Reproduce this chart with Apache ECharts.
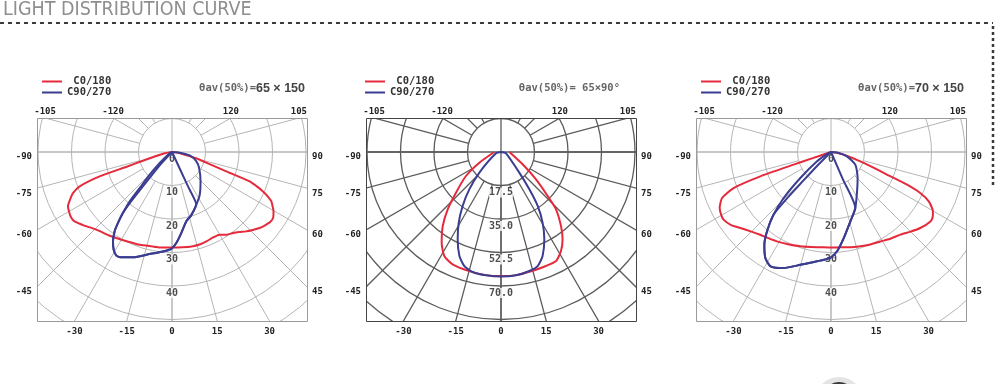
<!DOCTYPE html>
<html lang="en">
<head>
<meta charset="UTF-8">
<title>Light distribution curve</title>
<script src="https://cdn.jsdelivr.net/npm/echarts@6/dist/echarts.min.js"></script>
<style>
  body { margin: 0; background: #fff; }
  #wrap { position: relative; width: 1000px; height: 384px; overflow: hidden; }
  .grid { position: absolute; top: 118px; width: 270px; height: 203px; }
  #main { position: absolute; left: 0; top: 0; width: 1000px; height: 384px; }
</style>
</head>
<body>
<div id="wrap">
  <div class="grid" id="g0" style="left:37px"></div>
  <div class="grid" id="g1" style="left:366px"></div>
  <div class="grid" id="g2" style="left:696px"></div>
  <div id="main"></div>
</div>
<script>
// ---- data: [angle (deg, 0 = straight down, + = right), intensity] ----
const p1Red = [[-90,0],[-80,2.5],[-75,6],[-73,10],[-72,14],[-71.4,22.8],[-69.6,29.4],[-67.5,32],[-65.6,33.2],[-62.5,35],[-60,35.5],[-57,35.9],[-54.5,35.7],[-50,34.2],[-46,32.8],[-42.4,32],[-37,31.2],[-33,30.6],[-26,29.8],[-19,29.3],[-12,28.8],[-7,28.7],[0,28.5],[6,28.6],[12.6,28.8],[17,28.8],[21,28.6],[26,28.3],[30,28.5],[33.5,29.6],[37,30.3],[40,31.2],[43,32.4],[46,33.5],[49,34.6],[52,35.4],[54.5,36],[57,36],[59.7,35.1],[61.5,34.2],[63.6,33.1],[65.3,31.3],[66.6,29.6],[68,27.2],[69.3,24.8],[70.4,17.2],[72,12],[74.5,8.6],[78,4],[85,1.5],[90,0]];
const p1BlueA = [[25,0],[25,6],[25,12],[24.8,17.3],[17,19.7],[11.7,21.1],[6.6,24.3],[2.7,27.2],[-0.4,28.9],[-5.2,29.8],[-12.4,31.2],[-20.3,33.5],[-25.7,34.9],[-28.2,35.1],[-30.8,34],[-33.4,32],[-35.9,29.2],[-37.3,26.6],[-38.8,23.4],[-40.6,19.4],[-41.9,14.4],[-44.6,9.5],[-48.3,4.9],[-60,1],[-60,0]];
const p1BlueB = [[-43,0],[-43,5],[-41,10],[-40,15],[-39.5,20],[-38.8,23.4],[-37.3,26.6],[-35.9,29.2],[-33.4,32],[-30.8,34],[-28.2,35.1],[-25.7,34.9],[-20.3,33.5],[-12.4,31.2],[-5.2,29.8],[-0.4,28.9],[2.7,27.2],[6.6,24.3],[11.7,21.1],[17,19.7],[24.8,17.3],[33,15.2],[44.3,12.2],[59.4,9.4],[69,7.8],[79,5.4],[85,2.3],[90,0]];

const p2Red = [[-90,3.5],[-63.8,12.6],[-55.6,22.2],[-47.9,31.7],[-42.9,40.9],[-38.2,49.2],[-33.2,56.6],[-28.6,61.9],[-23.3,63.9],[-15,64.4],[-7,64.8],[0,64.8],[7,64.8],[15,64.2],[21.5,64],[26.8,63.8],[31.2,60.5],[35.2,55.8],[39,49.8],[43.8,41.5],[46.7,33.5],[52,23.2],[60.4,13],[90,4.4]];
const p2Blue = [[-90,0],[-75,2.7],[-46.4,15.6],[-40.3,25.6],[-35.4,34.6],[-30.9,43],[-26.4,50.9],[-21.8,58.5],[-17.8,62.6],[-13.3,64.4],[-6.9,64.9],[0,65.1],[6.9,64.9],[13.4,63.9],[17.8,62.6],[21.8,58.5],[26.4,50.9],[30.5,42.8],[34.2,34.1],[37.2,24.5],[41.6,14.4],[75,2.7],[90,0]];

const p3Red = [[-90,0],[-72,0.5],[-71.5,6],[-71.3,11.8],[-71,22.3],[-69.7,31],[-67.1,35.3],[-63.3,37.2],[-60,37.8],[-57.8,37.9],[-54,37],[-50,35.3],[-45,33.6],[-40.5,32.5],[-36,31.8],[-31.2,31.2],[-25,30.4],[-18,29.6],[-12,29],[-6.4,28.6],[0,28.5],[5.6,28.6],[11,29],[17.3,29.5],[23,30],[28.9,30.5],[34,31.3],[40,32.2],[45,33.6],[49.6,35],[55.1,36.2],[57.5,36],[59.8,35.2],[63.2,32.7],[65.3,29.3],[66.7,24.7],[68,18],[70,13],[72.3,9.2],[76,5],[82,1.8],[90,0]];
const p3BlueA = [[23.5,0],[23.5,9],[23.5,18.2],[15.6,21.5],[8.4,26],[3.5,29.7],[-0.4,31.6],[-7.3,32.9],[-15.2,34.9],[-22.2,37.4],[-27.9,38.6],[-31.8,37.2],[-35.7,34.1],[-38.9,30.4],[-42.5,25.4],[-45.8,19.7],[-49.7,12],[-56.3,5],[-65,1],[-65,0]];
const p3BlueB = [[-45,0],[-45,6],[-44,12],[-43.5,19],[-42.5,25.4],[-38.9,30.4],[-35.7,34.1],[-31.8,37.2],[-27.9,38.6],[-22.2,37.4],[-15.2,34.9],[-7.3,32.9],[-0.4,31.6],[3.5,29.7],[8.4,26],[15.6,21.5],[23.5,18.2],[33.5,14.1],[45.7,11.1],[62.5,8.2],[74.8,4.9],[85,1.8],[90,0]];

const redCurves = [[p1Red], [p2Red], [p3Red]];
const blueCurves = [[p1BlueA, p1BlueB], [p2Blue], [p3BlueA, p3BlueB]];

// ---- tick labels ----
const radialStep = [10, 17.5, 10];
const radialValues = [[0, 10, 20, 30, 40], [17.5, 35, 52.5, 70], [0, 10, 20, 30, 40]];
const radialLabels = [['0', '10', '20', '30', '40'], ['17.5', '35.0', '52.5', '70.0'], ['0', '10', '20', '30', '40']];
const angleTicks = [-120, -105, -90, -75, -60, -45, -30, -15, 0, 15, 30, 45, 60, 75, 90, 105, 120];
const seriesNames = ['C0/180', 'C90/270'];
const beamTitles = [['θav(50%)=', '65 × 150'], ['θav(50%)= 65×90°', ''], ['θav(50%)=', '70 × 150']];

// ---- layout ----
const panelLeft = [37, 366, 696];
const frameTop = 118, frameW = 270, frameH = 203;
const cx0 = 135, cy0 = 34;          // pole position inside the frame
const ringPx = 33.5;                 // pixels per radial step
const R = ringPx * 7;
const RED = '#e52a3c', BLUE = '#3a3d90';
const gridColor = ['#b5b5b5', '#5c5c5c', '#b5b5b5'];
const gridWidth = [1, 1.3, 1];
const frameColor = ['#9a9a9a', '#444', '#9a9a9a'];
const MONO = "'DejaVu Sans Mono', monospace";

// ---- polar grids, each clipped by its own small canvas ----
panelLeft.forEach(function (left, p) {
  const g = echarts.init(document.getElementById('g' + p));
  const line = { color: gridColor[p], width: gridWidth[p] };
  const hidden = { axisLine: { show: false }, axisTick: { show: false }, axisLabel: { show: false } };
  g.setOption({
    animation: false,
    backgroundColor: 'transparent',
    polar: [
      { center: [cx0, cy0], radius: [0, R] },
      { center: [cx0, cy0], radius: [ringPx, R] }
    ],
    angleAxis: [
      Object.assign({ polarIndex: 0, type: 'value', min: -180, max: 180, interval: 90, startAngle: 90, clockwise: false,
        splitLine: { show: true, lineStyle: line } }, hidden),
      Object.assign({ polarIndex: 1, type: 'value', min: -180, max: 180, interval: 15, startAngle: 90, clockwise: false,
        splitLine: { show: true, lineStyle: line } }, hidden)
    ],
    radiusAxis: [
      Object.assign({ polarIndex: 0, type: 'value', min: 0, max: radialStep[p] * 7, interval: radialStep[p],
        splitLine: { show: true, lineStyle: line } }, hidden),
      { polarIndex: 1, type: 'value', min: 0, max: 1, show: false }
    ]
  });
});

// ---- main chart: curves, labels, legends, frame ----
function edgeHit(a) {
  const rad = a * Math.PI / 180, dx = Math.sin(rad), dy = Math.cos(rad);
  let t = Infinity, side = '';
  if (dy > 1e-9 && (frameH - cy0) / dy < t) { t = (frameH - cy0) / dy; side = 'bottom'; }
  if (dy < -1e-9 && -cy0 / dy < t) { t = -cy0 / dy; side = 'top'; }
  if (dx > 1e-9 && (frameW - cx0) / dx < t) { t = (frameW - cx0) / dx; side = 'right'; }
  if (dx < -1e-9 && -cx0 / dx < t) { t = -cx0 / dx; side = 'left'; }
  return { x: cx0 + dx * t, y: cy0 + dy * t, side: side };
}

const polar = [], angleAxis = [], radiusAxis = [], series = [], legend = [], title = [];
const graphic = [
  { type: 'text', x: 3, y: 9.5, style: { text: 'LIGHT DISTRIBUTION CURVE', font: "300 19.5px 'Liberation Sans Narrow', 'DejaVu Sans Condensed', sans-serif",
    fill: '#8e8e8e', align: 'left', verticalAlign: 'middle', textAlign: 'left', textVerticalAlign: 'middle' } },
  { type: 'polyline', shape: { points: [[0, 23], [993, 23]] }, style: { stroke: '#3a3a3a', lineWidth: 2, lineDash: [4, 4] } },
  { type: 'polyline', shape: { points: [[993, 26], [993, 188]] }, style: { stroke: '#3a3a3a', lineWidth: 2.5, lineDash: [3, 3] } },
  { type: 'circle', shape: { cx: 839, cy: 401, r: 24 }, style: { fill: '#e4e4e4' } },
  { type: 'circle', shape: { cx: 839, cy: 398, r: 16 }, style: { fill: '#3a3a3a' } }
];

panelLeft.forEach(function (left, p) {
  polar.push({ center: [left + cx0, frameTop + cy0], radius: R });
  angleAxis.push({ polarIndex: p, type: 'value', min: -180, max: 180, startAngle: 90, clockwise: false, show: false });
  radiusAxis.push({ polarIndex: p, type: 'value', min: 0, max: radialStep[p] * 7, show: false });

  redCurves[p].forEach(function (c) {
    series.push({ type: 'line', name: seriesNames[0], coordinateSystem: 'polar', polarIndex: p, z: 4,
      data: c.map(d => [d[1], d[0]]), symbol: 'none', smooth: 0.2, silent: true,
      lineStyle: { color: RED, width: 2 }, itemStyle: { color: RED } });
  });
  blueCurves[p].forEach(function (c) {
    series.push({ type: 'line', name: seriesNames[1], coordinateSystem: 'polar', polarIndex: p, z: 5,
      data: c.map(d => [d[1], d[0]]), symbol: 'none', smooth: 0.2, silent: true,
      lineStyle: { color: BLUE, width: 2 }, itemStyle: { color: BLUE } });
  });
  series.push({ type: 'scatter', coordinateSystem: 'polar', polarIndex: p, z: 2, silent: true,
    symbolSize: 0, data: radialValues[p].map(v => [v, 0]),
    label: { show: true, position: 'inside', offset: [0, 7], formatter: d => radialLabels[p][d.dataIndex],
      fontFamily: MONO, fontSize: 10, fontWeight: 'bold', color: '#222', backgroundColor: '#fff' } });

  legend.push({ left: left + 5 - (p === 1 ? 6 : 0), top: 76, orient: 'vertical', padding: 0, itemGap: 0,
    itemWidth: 20, itemHeight: 2, icon: 'rect', data: seriesNames, selectedMode: false,
    formatter: n => n === seriesNames[0] ? ' ' + n : n,
    textStyle: { fontFamily: MONO, fontSize: 10.5, fontWeight: 'bold', color: '#333', lineHeight: 11 } });

  title.push({ text: '{a|' + beamTitles[p][0] + '}{b|' + beamTitles[p][1] + '}', top: 82, padding: 0,
    right: 1000 - (left + [268, 254, 268][p]),
    textStyle: { rich: {
      a: { fontFamily: MONO, fontSize: 10.5, color: '#666' },
      b: { fontFamily: "'Liberation Sans', sans-serif", fontSize: 12.5, fontWeight: 'bold', color: '#444' } } } });

  graphic.push({ type: 'rect', z: 10, shape: { x: left + 0.5, y: frameTop + 0.5, width: frameW, height: frameH },
    style: { fill: 'none', stroke: frameColor[p], lineWidth: 1 } });

  angleTicks.forEach(function (a) {
    const h = edgeHit(a);
    let x = left + h.x, y = frameTop + h.y, align = 'center';
    if (h.side === 'bottom') y += 11;
    else if (h.side === 'top') y -= 6;
    else if (h.side === 'left') { x -= 5; y += 5; align = 'right'; }
    else { x += 5; y += 5; align = 'left'; }
    graphic.push({ type: 'text', x: x, y: y, z: 10, style: { text: String(a), font: 'bold 9px ' + MONO, fill: '#222',
      align: align, verticalAlign: 'middle', textAlign: align, textVerticalAlign: 'middle' } });
  });
});

const chart = echarts.init(document.getElementById('main'));
chart.setOption({
  animation: false,
  backgroundColor: 'transparent',
  title: title,
  legend: legend,
  polar: polar,
  angleAxis: angleAxis,
  radiusAxis: radiusAxis,
  series: series,
  graphic: graphic
});
</script>
</body>
</html>
